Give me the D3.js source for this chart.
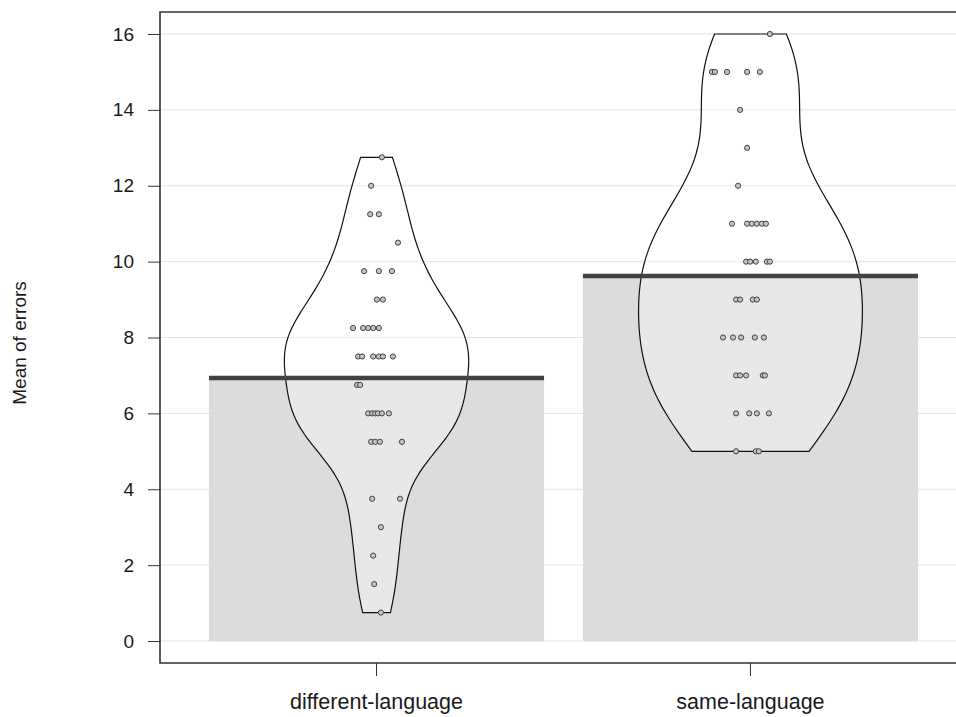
<!DOCTYPE html>
<html>
<head>
<meta charset="utf-8">
<script src="https://cdn.jsdelivr.net/npm/d3@7"></script>
<style>
    body { margin: 0; background: #fff; }
    text { font-family: "Liberation Sans", Arial, sans-serif; fill: #1a1a1a; }
</style>
</head>
<body>
<svg id="chart" width="956" height="717"></svg>
<script>
const categories = ["different-language", "same-language"];
const means = [6.93, 9.62];
const yTicks = [0, 2, 4, 6, 8, 10, 12, 14, 16];

// mean errors per participant
const diffValues = [12.75, 12, 11.25, 11.25, 10.5, 9.75, 9.75, 9.75, 9, 9,
    8.25, 8.25, 8.25, 8.25, 8.25, 7.5, 7.5, 7.5, 7.5, 7.5, 7.5, 6.75, 6.75,
    6, 6, 6, 6, 6, 6, 5.25, 5.25, 5.25, 5.25, 3.75, 3.75, 3, 2.25, 1.5, 0.75];
// horizontal jitter, percent of the bar width
const diffJitter = [1.6, -1.6, -1.9, 0.7, 6.4, -3.7, 0.7, 4.6, 0.1, 1.9,
    -7.0, -4.0, -2.5, -1.0, 0.7, -5.5, -4.3, -1.0, 0.7, 1.9, 4.9, -5.8, -4.9,
    -2.5, -1.3, -0.4, 0.4, 1.6, 3.7, -1.6, -0.4, 1.0, 7.6, -1.3, 7.0, 1.3, -1.0, -0.7, 1.3];

const sameValues = [16, 15, 15, 15, 15, 15, 14, 13, 12, 11, 11, 11, 11, 11, 11,
    10, 10, 10, 10, 10, 9, 9, 9, 9, 8, 8, 8, 8, 8, 7, 7, 7, 7, 7, 6, 6, 6, 6, 5, 5, 5];
const sameJitter = [5.8, -11.5, -10.6, -7.0, -1.0, 2.8, -3.1, -1.0, -3.7,
    -5.5, -1.0, 0.4, 1.9, 3.4, 4.6, -1.3, -0.1, 1.6, 4.9, 5.8, -4.3, -3.1, 0.7, 1.9,
    -8.2, -5.2, -2.8, 1.3, 4.0, -4.3, -3.1, -1.3, 3.7, 4.3, -4.3, -0.4, 1.9, 5.5, -4.3, 1.6, 2.5];

// bean look: smoothing factor and widest half-width (share of bar width)
const beanAdjust = [1, 1.2];
const beanWidth = [0.275, 0.334];

const groups = [
    { name: categories[0], mean: means[0], values: diffValues, jitter: diffJitter, adjust: beanAdjust[0], width: beanWidth[0] },
    { name: categories[1], mean: means[1], values: sameValues, jitter: sameJitter, adjust: beanAdjust[1], width: beanWidth[1] }
];

const svg = d3.select("#chart");
const plotLeft = 160, plotTop = 12, plotBottom = 663, plotRight = 967;

const x = d3.scaleBand()
    .domain(categories)
    .range([plotLeft, plotRight])
    .paddingInner(0.104)
    .paddingOuter(0.131);

const y = d3.scaleLinear()
    .domain([0, 16])
    .range([641, 34]);

// gaussian kde, bandwidth like R's nrd0, cut at the data range
function density(values, adjust) {
    const sorted = values.slice().sort(d3.ascending);
    const n = sorted.length;
    const iqr = d3.quantile(sorted, 0.75) - d3.quantile(sorted, 0.25);
    const bw = adjust * 0.9 * Math.min(d3.deviation(sorted), iqr / 1.34) * Math.pow(n, -0.2);
    const lo = sorted[0], hi = sorted[n - 1];
    return d3.range(0, 121).map(function (i) {
        const v = lo + (hi - lo) * i / 120;
        const d = d3.mean(sorted, function (s) {
            const z = (v - s) / bw;
            return Math.exp(-0.5 * z * z);
        }) / (bw * Math.sqrt(2 * Math.PI));
        return [v, d];
    });
}

groups.forEach(function (g) {
    g.dens = density(g.values, g.adjust);
    g.maxDens = d3.max(g.dens, function (d) { return d[1]; });
});

// grid
svg.append("g")
    .selectAll("line")
    .data(yTicks)
    .enter()
    .append("line")
    .attr("x1", plotLeft).attr("x2", plotRight)
    .attr("y1", function (d) { return y(d); })
    .attr("y2", function (d) { return y(d); })
    .attr("stroke", "#e3e3e3")
    .attr("stroke-width", 1);

// bars
svg.append("g")
    .selectAll("rect")
    .data(groups)
    .enter()
    .append("rect")
    .attr("x", function (d) { return x(d.name); })
    .attr("width", x.bandwidth())
    .attr("y", function (d) { return y(d.mean); })
    .attr("height", function (d) { return y(0) - y(d.mean); })
    .attr("fill", "#d9d9d9")
    .attr("fill-opacity", 0.92);

// beans
groups.forEach(function (g) {
    const cx = x(g.name) + x.bandwidth() / 2;
    const k = g.width * x.bandwidth() / g.maxDens;
    const area = d3.area()
        .x0(function (d) { return cx - d[1] * k; })
        .x1(function (d) { return cx + d[1] * k; })
        .y(function (d) { return y(d[0]); });
    svg.append("path")
        .datum(g.dens)
        .attr("d", area)
        .attr("fill", "#fff")
        .attr("fill-opacity", 0.35)
        .attr("stroke", "#111")
        .attr("stroke-width", 1.2);
});

// mean lines
svg.append("g")
    .selectAll("line")
    .data(groups)
    .enter()
    .append("line")
    .attr("x1", function (d) { return x(d.name); })
    .attr("x2", function (d) { return x(d.name) + x.bandwidth(); })
    .attr("y1", function (d) { return y(d.mean); })
    .attr("y2", function (d) { return y(d.mean); })
    .attr("stroke", "#424242")
    .attr("stroke-width", 4.5);

// points
groups.forEach(function (g) {
    const cx = x(g.name) + x.bandwidth() / 2;
    svg.append("g")
        .selectAll("circle")
        .data(g.values)
        .enter()
        .append("circle")
        .attr("cx", function (d, i) { return cx + g.jitter[i] / 100 * x.bandwidth(); })
        .attr("cy", function (d) { return y(d); })
        .attr("r", 2.6)
        .attr("fill", "#c4c4c4")
        .attr("stroke", "#333")
        .attr("stroke-width", 0.9);
});

// frame
svg.append("path")
    .attr("d", "M" + plotRight + "," + plotTop + "H" + plotLeft + "V" + plotBottom + "H" + plotRight)
    .attr("fill", "none")
    .attr("stroke", "#333")
    .attr("stroke-width", 1.6);

// axes
const yAxis = svg.append("g")
    .attr("transform", "translate(" + plotLeft + ",0)")
    .call(d3.axisLeft(y).tickValues(yTicks).tickSize(12).tickPadding(14));
yAxis.select(".domain").remove();
yAxis.selectAll("text").style("font-size", "19px");
yAxis.selectAll("line").attr("stroke", "#333");

const xAxis = svg.append("g")
    .attr("transform", "translate(0," + plotBottom + ")")
    .call(d3.axisBottom(x).tickSize(13).tickPadding(18));
xAxis.select(".domain").remove();
xAxis.selectAll("text").style("font-size", "21.5px");
xAxis.selectAll("line").attr("stroke", "#333");

svg.append("text")
    .attr("transform", "translate(26,343) rotate(-90)")
    .attr("text-anchor", "middle")
    .style("font-size", "19px")
    .text("Mean of errors");
</script>
</body>
</html>
